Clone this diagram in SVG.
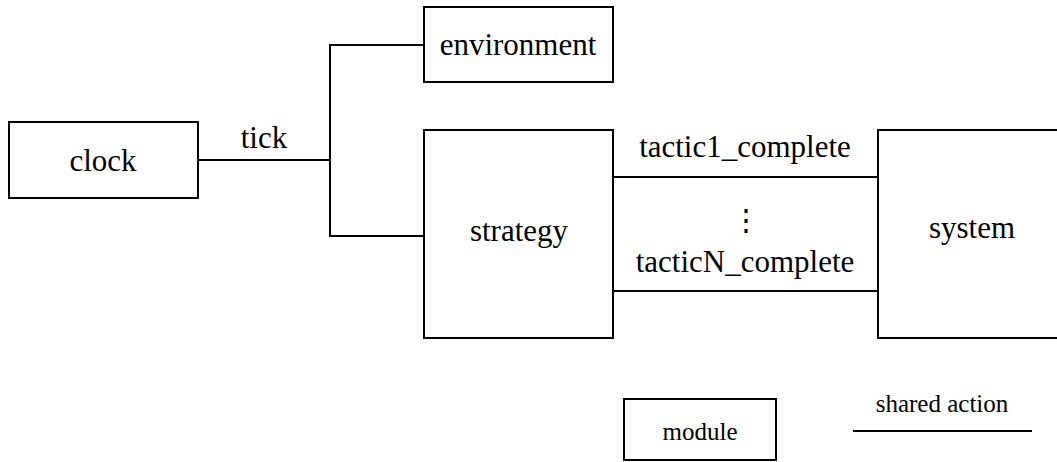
<svg xmlns="http://www.w3.org/2000/svg" width="1057" height="462" viewBox="0 0 1057 462">
<style>
.box{fill:#fff;stroke:#000;stroke-width:2}
.ln{fill:none;stroke:#000;stroke-width:2}
text{font-family:'Liberation Serif','Times New Roman',Times,serif;fill:#000;text-anchor:middle}
.t{font-size:31px}
.s{font-size:25px}
.e{font-family:'DejaVu Serif',serif;font-size:30px}
</style>
<rect width="1057" height="462" fill="#fff"/>
<g id="connectors">
<polyline class="ln" points="198,160 330,160"/>
<polyline class="ln" points="424,45 330,45 330,236 424,236"/>
<line class="ln" x1="613" y1="177" x2="878" y2="177"/>
<line class="ln" x1="613" y1="291" x2="878" y2="291"/>
<text class="t" x="264" y="148">tick</text>
<text class="t" x="745" y="157">tactic1_complete</text>
<text class="e" x="746" y="230">⋮</text>
<text class="t" x="745" y="272">tacticN_complete</text>
</g>
<g id="clock"><rect class="box" x="9" y="122" width="189" height="76"/><text class="t" x="103" y="171">clock</text></g>
<g id="environment"><rect class="box" x="424" y="7" width="189" height="75"/><text class="t" x="518" y="55">environment</text></g>
<g id="strategy"><rect class="box" x="424" y="130" width="189" height="208"/><text class="t" x="519" y="241">strategy</text></g>
<g id="system"><rect class="box" x="878" y="130" width="200" height="208"/><text class="t" x="972" y="238">system</text></g>
<g id="legend-module"><rect class="box" x="624" y="399" width="152" height="61"/><text class="s" x="700" y="440">module</text></g>
<g id="legend-shared-action"><line class="ln" x1="853" y1="431" x2="1032" y2="431"/><text class="s" x="942" y="412">shared action</text></g>
</svg>
